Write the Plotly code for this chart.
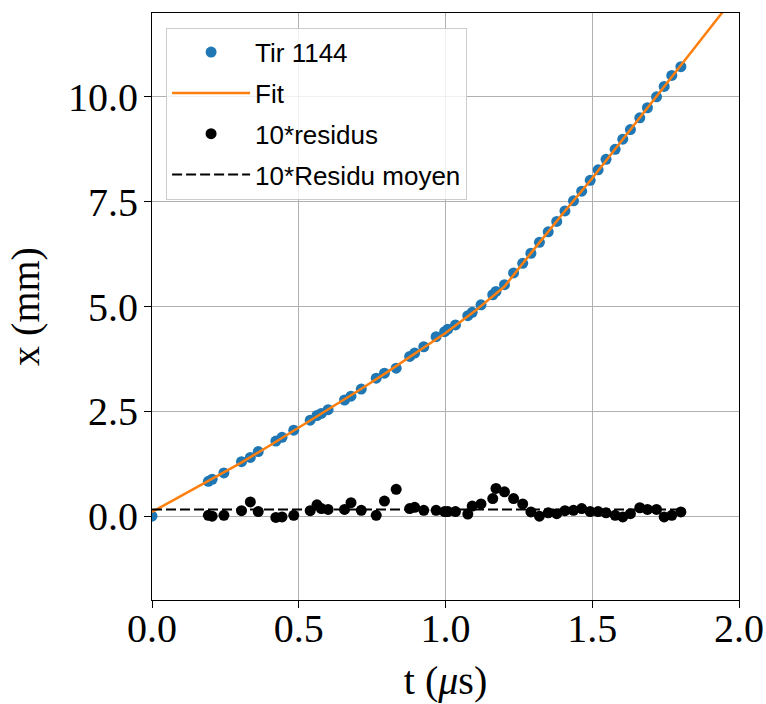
import plotly.graph_objects as go

# Measured points (t in µs, x in mm)
t_points = [0.0, 0.192, 0.205, 0.245, 0.305, 0.335, 0.362, 0.422, 0.443, 0.483,
            0.539, 0.562, 0.577, 0.600, 0.656, 0.678, 0.713, 0.764, 0.792, 0.832,
            0.878, 0.895, 0.926, 0.968, 0.997, 1.008, 1.034, 1.076, 1.091, 1.121,
            1.161, 1.172, 1.201, 1.232, 1.263, 1.291, 1.320, 1.350, 1.379, 1.407,
            1.436, 1.464, 1.493, 1.520, 1.547, 1.578, 1.604, 1.630, 1.662, 1.688,
            1.719, 1.745, 1.771, 1.802]
x_points = [0.00, 0.83, 0.88, 1.03, 1.30, 1.40, 1.54, 1.79, 1.88, 2.05,
            2.29, 2.40, 2.45, 2.54, 2.77, 2.86, 3.03, 3.29, 3.41, 3.53,
            3.81, 3.89, 4.04, 4.28, 4.40, 4.46, 4.56, 4.78, 4.86, 5.04,
            5.28, 5.36, 5.52, 5.80, 6.03, 6.27, 6.53, 6.78, 7.03, 7.28,
            7.52, 7.75, 8.01, 8.26, 8.51, 8.75, 8.99, 9.22, 9.50, 9.74,
            10.00, 10.25, 10.51, 10.72]

# Fit curve
t_fit = [0.0, 0.1, 0.2, 0.3, 0.4, 0.5, 0.6, 0.7, 0.8, 0.9, 1.0, 1.1, 1.2,
         1.3, 1.4, 1.5, 1.6, 1.7, 1.8, 1.9, 2.0]
x_fit = [0.10, 0.48, 0.86, 1.26, 1.68, 2.11, 2.54, 2.98, 3.43, 3.89, 4.37, 4.89, 5.47,
         6.35, 7.22, 8.06, 8.95, 9.84, 10.72, 11.62, 12.52]

# 10 * residuals (for t_points[1:])
t_res = t_points[1:]
res10 = [0.02, 0.00, 0.02, 0.13, 0.34, 0.11, -0.03, -0.02, 0.02,
         0.13, 0.27, 0.18, 0.16, 0.16, 0.32, 0.14, 0.02, 0.36, 0.64,
         0.18, 0.21, 0.14, 0.14, 0.11, 0.11, 0.11, 0.05, 0.24, 0.29,
         0.42, 0.66, 0.58, 0.42, 0.29, 0.10, 0.00, 0.08, 0.06, 0.13,
         0.14, 0.18, 0.11, 0.11, 0.08, 0.02, -0.02, 0.06, 0.20, 0.16,
         0.16, -0.02, 0.02, 0.10]

# 10 * mean residual
t_mean = [0.0, 1.802]
res_mean10 = [0.16, 0.16]

x_ticks = [0.0, 0.5, 1.0, 1.5, 2.0]
y_ticks = [0.0, 2.5, 5.0, 7.5, 10.0]

fig = go.Figure()
fig.add_trace(go.Scatter(x=t_points, y=x_points, mode="markers", name="Tir 1144",
                         legendgroup="a",
                         marker=dict(color="#1f77b4", size=11)))
fig.add_trace(go.Scatter(x=t_fit, y=x_fit, mode="lines", name="Fit",
                         legendgroup="b",
                         line=dict(color="#ff7f0e", width=2.5)))
fig.add_trace(go.Scatter(x=t_res, y=res10, mode="markers", name="10*residus",
                         legendgroup="c",
                         marker=dict(color="black", size=11)))
fig.add_trace(go.Scatter(x=t_mean, y=res_mean10, mode="lines", name="10*Residu moyen",
                         legendgroup="d",
                         line=dict(color="black", width=2, dash="10px,4px")))

axis_common = dict(
    showline=True, mirror=True, linecolor="black", linewidth=1.2,
    ticks="outside", ticklen=7, tickwidth=1, tickcolor="black",
    showgrid=True, gridcolor="#b0b0b0", gridwidth=1, zeroline=False,
    tickfont=dict(family="Liberation Serif", size=40, color="black"),
    tickformat=".1f", automargin=False,
)

fig.update_layout(
    width=766, height=704,
    margin=dict(l=152, r=27, t=13, b=104),
    plot_bgcolor="white", paper_bgcolor="white",
    xaxis=dict(range=[0, 2], tickvals=x_ticks, ticklabelstandoff=-14,
               title=dict(text="t (<i>μ</i>s)",
                          font=dict(family="Liberation Serif", size=40, color="black")),
               **axis_common),
    yaxis=dict(range=[-2, 12], tickvals=y_ticks, ticklabelstandoff=-2,
               title=dict(text="x (mm)",
                          font=dict(family="Liberation Serif", size=40, color="black")),
               **axis_common),
    legend=dict(x=0.024, y=0.975, xanchor="left", yanchor="top",
                bgcolor="rgba(255,255,255,0.8)", bordercolor="#cccccc", borderwidth=1,
                font=dict(family="Liberation Sans", size=26, color="black"),
                tracegroupgap=4, itemwidth=78, traceorder="grouped"),
    showlegend=True,
)

fig.write_html("out.html",
               config={"displayModeBar": False},
               post_script="document.body.style.margin='0';document.body.style.padding='0';")
